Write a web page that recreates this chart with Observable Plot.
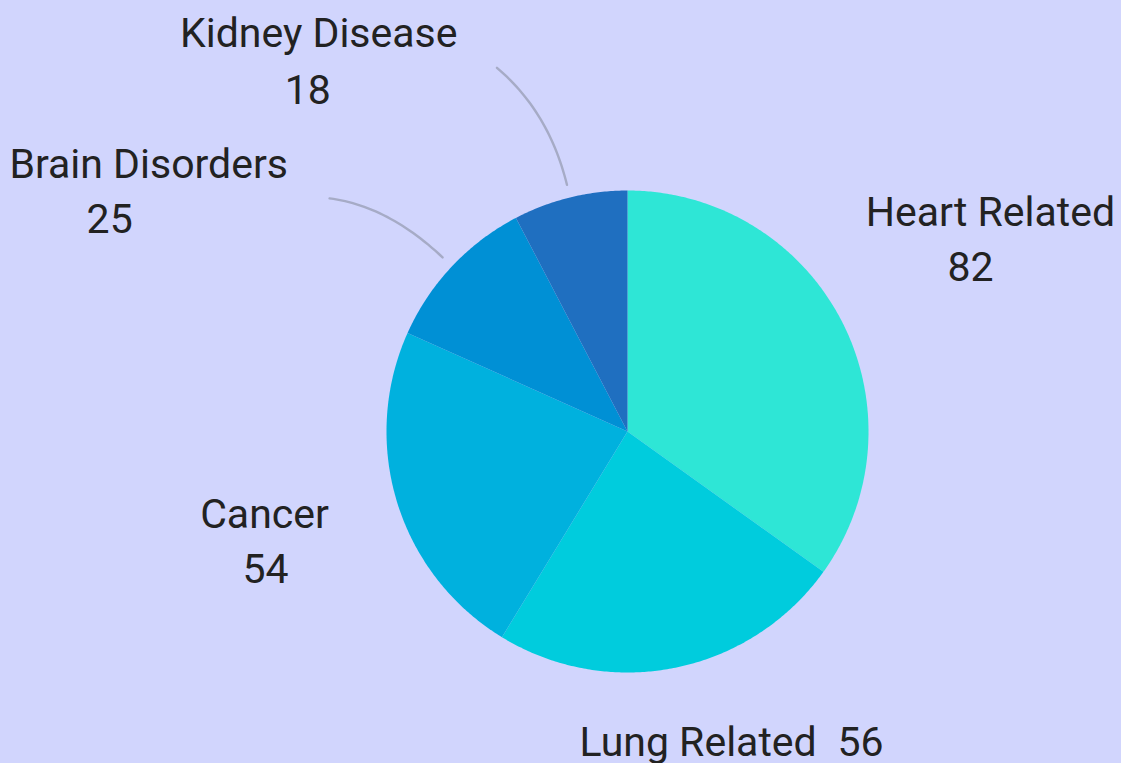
<!DOCTYPE html>
<html>
<head>
<meta charset="utf-8">
<script src="https://cdn.jsdelivr.net/npm/d3@7"></script>
<script src="https://cdn.jsdelivr.net/npm/@observablehq/plot@0.6"></script>
<style>
  html, body { margin: 0; padding: 0; background: #D1D5FD; }
  #chart svg { display: block; }
</style>
</head>
<body>
<div id="chart"></div>
<script>
// ---- data ----
const names = ["Heart Related", "Lung Related", "Cancer", "Brain Disorders", "Kidney Disease"];
const values = [82, 56, 54, 25, 18];
const colors = ["#2EE6D6", "#00CCDD", "#00B1DE", "#0090D5", "#1F6FC0"];

// ---- layout ----
const W = 1121, H = 763;
const cx = 627, cy = 431, R = 241;
// label placement: polar radius, angle nudge (deg), value-line offset, optional tick start offset
const layout = {
  "Heart Related":   {r: 417, nudge: -2.3, vdx: -20, vdy: 55},
  "Lung Related":    {r: 331.6, nudge: -0.8, vdx: 162.5, vdy: 0},
  "Cancer":          {r: 375.5, nudge: 2.4, vdx: 1, vdy: 55},
  "Brain Disorders": {r: 541.7, nudge: -15.4, vdx: -39, vdy: 55, tick: [-113, -59]},
  "Kidney Disease":  {r: 492.9, nudge: -25, vdx: -11, vdy: 57, tick: [-70, -117]}
};

const data = names.map((name, i) => ({name, value: values[i]}));
const arcs = d3.pie().sort(null).value(d => d.value)(data);

const px = (a, r) => cx + r * Math.sin(a);
const py = (a, r) => cy - r * Math.cos(a);

// slice outlines
const slicePts = [];
arcs.forEach(a => {
  const n = Math.max(2, Math.ceil((a.endAngle - a.startAngle) / (Math.PI / 360)));
  slicePts.push({name: a.data.name, x: cx, y: cy});
  for (let k = 0; k <= n; k++) {
    const t = a.startAngle + (a.endAngle - a.startAngle) * k / n;
    slicePts.push({name: a.data.name, x: px(t, R), y: py(t, R)});
  }
  slicePts.push({name: a.data.name, x: cx, y: cy});
});

// labels
const labelRows = [];
const tickPts = [];
arcs.forEach(a => {
  const L = layout[a.data.name];
  const mid = (a.startAngle + a.endAngle) / 2;
  const la = mid + L.nudge * Math.PI / 180;
  const lx = px(la, L.r), ly = py(la, L.r);
  labelRows.push({text: a.data.name, x: lx, y: ly});
  labelRows.push({text: String(a.data.value), x: lx + L.vdx, y: ly + L.vdy});
  if (L.tick) {
    const ex = px(mid, R + 13), ey = py(mid, R + 13);
    const qx = px(mid, R + 88), qy = py(mid, R + 88);
    const sx = ex + L.tick[0], sy = ey + L.tick[1];
    for (let k = 0; k <= 30; k++) {
      const t = k / 30, u = 1 - t;
      tickPts.push({name: a.data.name,
        x: u * u * ex + 2 * u * t * qx + t * t * sx,
        y: u * u * ey + 2 * u * t * qy + t * t * sy});
    }
  }
});

const chart = Plot.plot({
  width: W,
  height: H,
  margin: 0,
  style: {background: "#D1D5FD", overflow: "visible"},
  x: {domain: [0, W], range: [0, W], axis: null},
  y: {domain: [0, H], range: [0, H], axis: null},
  color: {domain: names, range: colors},
  marks: [
    Plot.line(slicePts, {x: "x", y: "y", z: "name", fill: "name", stroke: "none", curve: "linear"}),
    Plot.line(tickPts, {x: "x", y: "y", z: "name", stroke: "#A6ABC6", strokeWidth: 2.4, curve: "linear"}),
    Plot.text(labelRows, {x: "x", y: "y", text: "text", lineAnchor: "bottom", textAnchor: "middle",
      fill: "#222222", fontSize: 41, fontFamily: "Roboto"})
  ]
});
document.getElementById("chart").appendChild(chart);
</script>
</body>
</html>
